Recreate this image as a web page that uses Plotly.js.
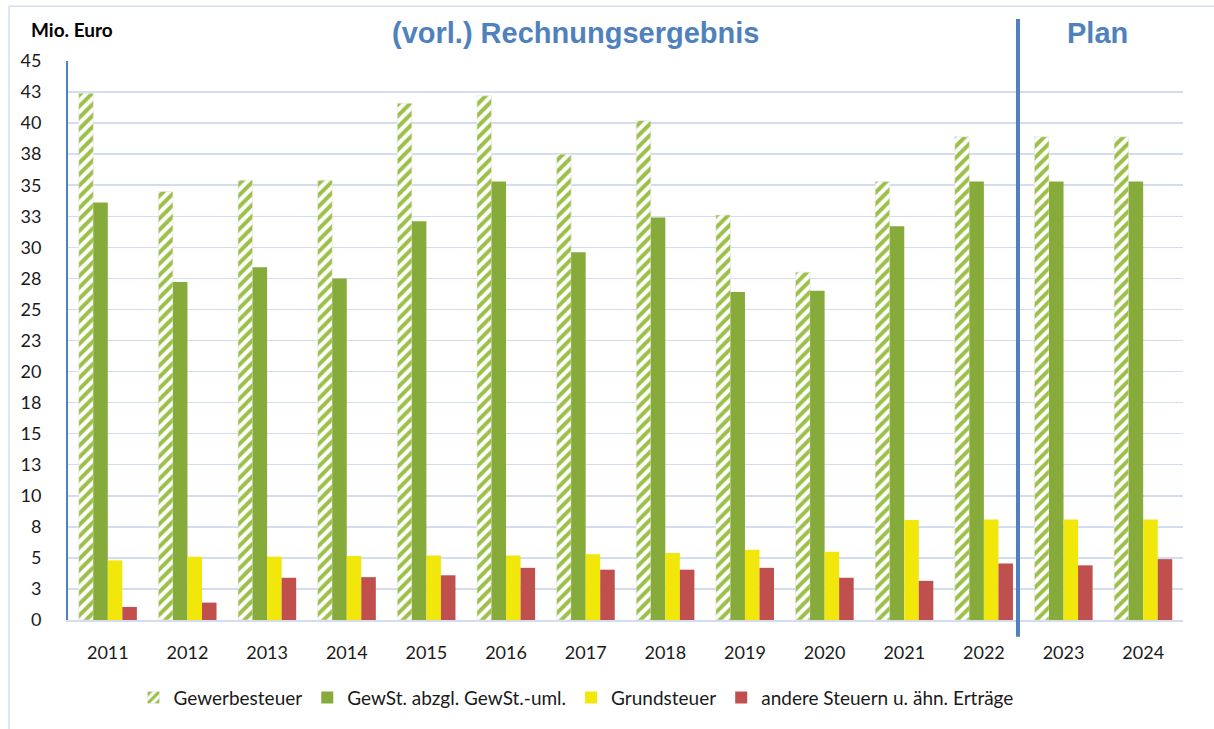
<!DOCTYPE html>
<html>
<head>
<meta charset="utf-8">
<script src="https://cdn.plot.ly/plotly-3.0.1.min.js"></script>
<style>html,body{margin:0;padding:0;background:#fff;}#chart{width:1214px;height:729px;}</style>
</head>
<body>
<div id="chart"></div>
<script>
const years = ['2011','2012','2013','2014','2015','2016','2017','2018','2019','2020','2021','2022','2023','2024'];
const gewerbesteuer = [42.4, 34.5, 35.4, 35.4, 41.6, 42.2, 37.5, 40.2, 32.6, 28.0, 35.3, 38.9, 38.9, 38.9];
const gewstNetto    = [33.6, 27.2, 28.4, 27.5, 32.1, 35.3, 29.6, 32.4, 26.4, 26.5, 31.7, 35.3, 35.3, 35.3];
const grundsteuer   = [4.8, 5.1, 5.1, 5.15, 5.2, 5.2, 5.3, 5.4, 5.65, 5.5, 8.05, 8.1, 8.1, 8.1];
const andere        = [1.05, 1.4, 3.4, 3.45, 3.6, 4.2, 4.05, 4.05, 4.2, 3.4, 3.15, 4.55, 4.4, 4.9];
const seriesNames = ['Gewerbesteuer', 'GewSt. abzgl. GewSt.-uml.', 'Grundsteuer', 'andere Steuern u. ähn. Erträge'];
const yTickVals = [0,2.5,5,7.5,10,12.5,15,17.5,20,22.5,25,27.5,30,32.5,35,37.5,40,42.5,45];
const yTickText = ['0','3','5','8','10','13','15','18','20','23','25','28','30','33','35','38','40','43','45'];

const baseFont = 'Lato, "Open Sans", "DejaVu Sans", sans-serif';

const traces = [
  {type:'bar', name:seriesNames[0], x:years, y:gewerbesteuer,
   marker:{color:'#ffffff', line:{color:'#e4e4e4', width:0.6},
     pattern:{shape:'/', fgcolor:'#9bbf47', bgcolor:'#ffffff', size:8, solidity:0.5}}},
  {type:'bar', name:seriesNames[1], x:years, y:gewstNetto, marker:{color:'#86ab3b'}},
  {type:'bar', name:seriesNames[2], x:years, y:grundsteuer, marker:{color:'#f2e70a'}},
  {type:'bar', name:seriesNames[3], x:years, y:andere, marker:{color:'#c0504d'}}
];

const layout = {
  width:1214, height:729,
  margin:{l:68, r:31, t:61, b:109},
  paper_bgcolor:'#ffffff', plot_bgcolor:'#ffffff',
  barmode:'group', bargap:0.27, bargroupgap:0,
  font:{family:baseFont, size:18, color:'#1a1a1a'},
  showlegend:true,
  legend:{orientation:'h', x:(576-68)/1115, xanchor:'center', y:-0.105, yanchor:'top',
    font:{family:baseFont, size:19, color:'#1a1a1a'}, traceorder:'normal', itemwidth:30},
  xaxis:{type:'category', showgrid:false, zeroline:false, showline:true, linecolor:'#d3ddef', linewidth:2,
    ticks:'', tickfont:{family:baseFont, size:18, color:'#1a1a1a'}, ticklabelstandoff:15},
  yaxis:{range:[0,45], tickmode:'array', tickvals:yTickVals, ticktext:yTickText,
    showgrid:true, gridcolor:'#d3ddef', gridwidth:1.5, zeroline:false,
    showline:true, linecolor:'#4f81bd', linewidth:2, ticks:'',
    tickfont:{family:baseFont, size:18, color:'#1a1a1a'}, ticklabelstandoff:21},
  shapes:[
    {type:'rect', xref:'paper', yref:'paper', x0:-0.0529, x1:1.1, y0:-0.25, y1:1.098,
     line:{color:'#d5dfee', width:1.5}, fillcolor:'rgba(0,0,0,0)', layer:'below'},
    {type:'line', xref:'paper', yref:'paper', x0:0.852, x1:0.852, y0:-0.03, y1:1.075,
     line:{color:'#4f81bd', width:4}}
  ],
  annotations:[
    {text:'<b>Mio. Euro</b>', xref:'paper', yref:'paper', x:(29-68)/1115, y:(620-29)/559, xanchor:'left', yanchor:'middle',
     showarrow:false, font:{family:baseFont, size:19, color:'#000000'}},
    {text:'<b>(vorl.) Rechnungsergebnis</b>', xref:'paper', yref:'paper', x:(575-68)/1115, y:(620-33)/559,
     xanchor:'center', yanchor:'middle', showarrow:false,
     font:{family:'"Liberation Sans", Arial, sans-serif', size:29, color:'#4f81bd'}},
    {text:'<b>Plan</b>', xref:'paper', yref:'paper', x:(1097-68)/1115, y:(620-33)/559,
     xanchor:'center', yanchor:'middle', showarrow:false,
     font:{family:'"Liberation Sans", Arial, sans-serif', size:29, color:'#4f81bd'}}
  ]
};

Plotly.newPlot('chart', traces, layout, {displayModeBar:false, staticPlot:true});
</script>
</body>
</html>
